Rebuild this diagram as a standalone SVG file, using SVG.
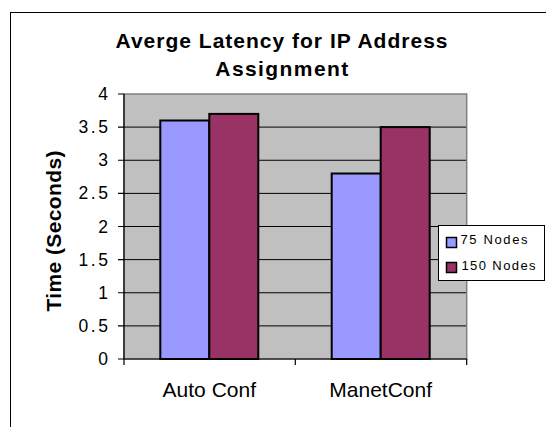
<svg xmlns="http://www.w3.org/2000/svg" width="546" height="427" viewBox="0 0 546 427">
<style>
.t{font-family:"Liberation Sans",Arial,sans-serif;fill:#000}
.title{font-size:21px;font-weight:bold;text-anchor:middle}
.tick{font-size:17.5px}
.cat{font-size:21px;text-anchor:middle}
.leg{font-size:13px}
.grid{stroke:#000;stroke-width:1}
.axis{stroke:#000;stroke-width:1.2;fill:none}
.bar{stroke:#000;stroke-width:2}
.s1{fill:#9999FF}
.s2{fill:#993366}
</style>
<rect id="chart-area" x="10.5" y="12.5" width="600" height="500" fill="#FFFFFF" stroke="#000" stroke-width="1"/>
<g id="title">
<text class="t title" x="281.5" y="47.5" textLength="332" lengthAdjust="spacing">Averge Latency for IP Address</text>
<text class="t title" x="281.8" y="75.5" textLength="133" lengthAdjust="spacing">Assignment</text>
</g>
<g id="plot-area">
<rect x="124" y="94" width="342.7" height="265" fill="#C0C0C0" stroke="#808080" stroke-width="1.5"/>
</g>
<g id="gridlines">
<line class="grid" x1="124" y1="325.9" x2="466" y2="325.9"/>
<line class="grid" x1="124" y1="292.75" x2="466" y2="292.75"/>
<line class="grid" x1="124" y1="259.6" x2="466" y2="259.6"/>
<line class="grid" x1="124" y1="226.5" x2="466" y2="226.5"/>
<line class="grid" x1="124" y1="193.4" x2="466" y2="193.4"/>
<line class="grid" x1="124" y1="160.25" x2="466" y2="160.25"/>
<line class="grid" x1="124" y1="127.1" x2="466" y2="127.1"/>
</g>
<g id="bars">
<g id="bar-auto-75"><rect class="bar s1" x="160.3" y="120.5" width="49" height="238.5"/></g>
<g id="bar-auto-150"><rect class="bar s2" x="209.3" y="113.9" width="49" height="245.1"/></g>
<g id="bar-manet-75"><rect class="bar s1" x="331.7" y="173.5" width="49" height="185.5"/></g>
<g id="bar-manet-150"><rect class="bar s2" x="380.7" y="127.1" width="49" height="231.9"/></g>
</g>
<g id="axes">
<path class="axis" d="M124,94 V359 H466.7"/>
<path class="axis" d="M118,94 H124 M118,127.1 H124 M118,160.25 H124 M118,193.4 H124 M118,226.5 H124 M118,259.6 H124 M118,292.75 H124 M118,325.9 H124 M118,359 H124"/>
<path class="axis" d="M124,359 V365 M295.3,359 V365 M466.7,359 V365"/>
</g>
<g id="y-labels">
<text class="t tick" x="108" y="100" text-anchor="end">4</text>
<text class="t tick" x="78.5" y="133.3" textLength="29.5" lengthAdjust="spacing">3.5</text>
<text class="t tick" x="108" y="166.3" text-anchor="end">3</text>
<text class="t tick" x="78.5" y="199.4" textLength="29.5" lengthAdjust="spacing">2.5</text>
<text class="t tick" x="108" y="232.5" text-anchor="end">2</text>
<text class="t tick" x="78.5" y="265.6" textLength="29.5" lengthAdjust="spacing">1.5</text>
<text class="t tick" x="108" y="298.8" text-anchor="end">1</text>
<text class="t tick" x="78.5" y="331.9" textLength="29.5" lengthAdjust="spacing">0.5</text>
<text class="t tick" x="108" y="365" text-anchor="end">0</text>
</g>
<g id="y-title">
<text class="t title" transform="translate(61,231) rotate(-90)" x="0" y="0" textLength="161" lengthAdjust="spacing">Time (Seconds)</text>
</g>
<g id="x-labels">
<text class="t cat" x="209.3" y="396.7">Auto Conf</text>
<text class="t cat" x="380.7" y="396.7">ManetConf</text>
</g>
<g id="legend">
<rect x="438.5" y="225.5" width="106" height="55" fill="#FFFFFF" stroke="#000" stroke-width="1"/>
<rect class="s1" x="446.5" y="237.5" width="10" height="10" stroke="#000" stroke-width="1.5"/>
<text class="t leg" x="460.5" y="244" textLength="67" lengthAdjust="spacing">75 Nodes</text>
<rect class="s2" x="446.5" y="262.5" width="10" height="10" stroke="#000" stroke-width="1.5"/>
<text class="t leg" x="461.5" y="269.5" textLength="74" lengthAdjust="spacing">150 Nodes</text>
</g>
</svg>
